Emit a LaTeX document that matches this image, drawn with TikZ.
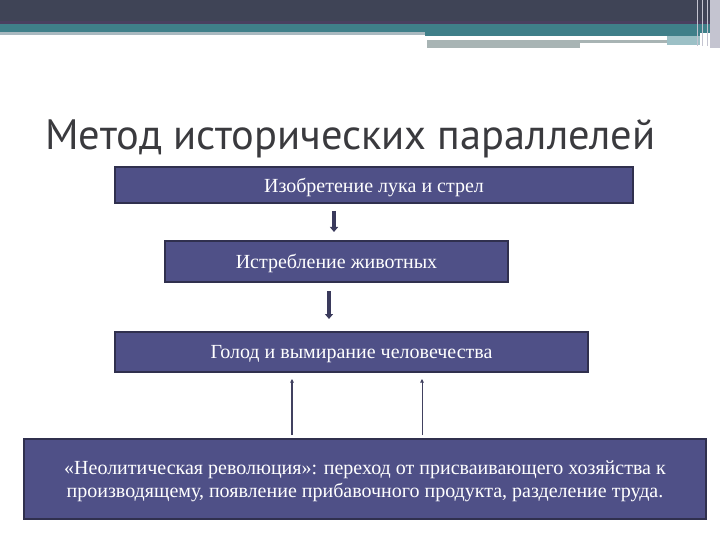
\documentclass[tikz,border=0pt]{standalone}
\usepackage{fontspec}
\setmainfont{Liberation Serif}
\newfontfamily\titlefont{PT Sans}
\usetikzlibrary{arrows.meta}
\definecolor{hdark}{HTML}{3F4456}
\definecolor{hpurp}{HTML}{4A4060}
\definecolor{hteal}{HTML}{3F7F89}
\definecolor{hlight}{HTML}{A9B9C0}
\definecolor{hgray}{HTML}{A8B4B4}
\definecolor{hlteal}{HTML}{9CC0C6}
\definecolor{hvert}{HTML}{C4C4D0}
\definecolor{titlecol}{HTML}{3A3A3E}
\definecolor{boxfill}{HTML}{4F5087}
\definecolor{boxline}{HTML}{30304E}
\definecolor{arrcol}{HTML}{3A3A5C}
\tikzset{
  stagebox/.style={draw=boxline, line width=2pt, fill=boxfill, text=white,
    inner sep=0pt, text depth=0pt, font=\fontsize{20}{23}\selectfont, align=center},
  downarr/.style={draw=arrcol, line width=4pt, -{Triangle[width=8pt,length=5pt]}},
  uparr/.style={draw=arrcol!90!gray, -{Triangle[width=3.5pt,length=3.5pt]}}
}
\begin{document}
\begin{tikzpicture}[x=1pt,y=-1pt]
\useasboundingbox (0,0) rectangle (720,540);
\fill[white] (0,0) rectangle (720,540);
% header
\fill[hdark] (0,0) rectangle (720,21);
\fill[hpurp] (0,21) rectangle (720,24);
\fill[hteal] (0,24) rectangle (720,33);
\fill[hlight] (0,32) rectangle (425,35);
\fill[hteal] (425,33) rectangle (700,36);
\fill[hlteal] (667,36) rectangle (700,45);
\fill[hgray] (427,40) rectangle (667,43);
\fill[hgray] (427,43) rectangle (580,48);
\fill[hvert] (697,0) rectangle (698,46);
\fill[hvert] (702,0) rectangle (703,46);
\fill[hvert] (707,0) rectangle (708,46);
\fill[hvert] (710,0) rectangle (720,48);
% title
\node[anchor=base west, inner sep=0pt, text=titlecol] (title) at (45,150)
  {\resizebox{610pt}{!}{\titlefont\fontsize{44}{50}\selectfont Метод исторических параллелей}};
% boxes
\node[stagebox, minimum width=518pt, minimum height=36pt] (b1) at (374,185) {Изобретение лука и стрел};
\node[stagebox, minimum width=343pt, minimum height=41pt] (b2) at (336.5,261.5) {Истребление животных};
\node[stagebox, minimum width=473pt, minimum height=40pt] (b3) at (351.5,352) {Голод и вымирание человечества};
\node[stagebox, minimum width=682pt, minimum height=80pt] (b4) at (365,479)
  {«Неолитическая революция»: переход от присваивающего хозяйства к\\производящему, появление прибавочного продукта, разделение труда.};
% arrows
\draw[downarr] ([xshift=-40pt,yshift=-7pt]b1.south) -- ([xshift=-2.5pt,yshift=8pt]b2.north);
\draw[downarr] ([xshift=-7.5pt,yshift=-8pt]b2.south) -- ([xshift=-22.5pt,yshift=12pt]b3.north);
\draw[uparr, line width=1.6pt] ([xshift=-73pt,yshift=3pt]b4.north) -- ([xshift=-59.5pt,yshift=-6pt]b3.south);
\draw[uparr, line width=1pt] ([xshift=57pt,yshift=3pt]b4.north) -- ([xshift=70.5pt,yshift=-6pt]b3.south);
\end{tikzpicture}
\end{document}
